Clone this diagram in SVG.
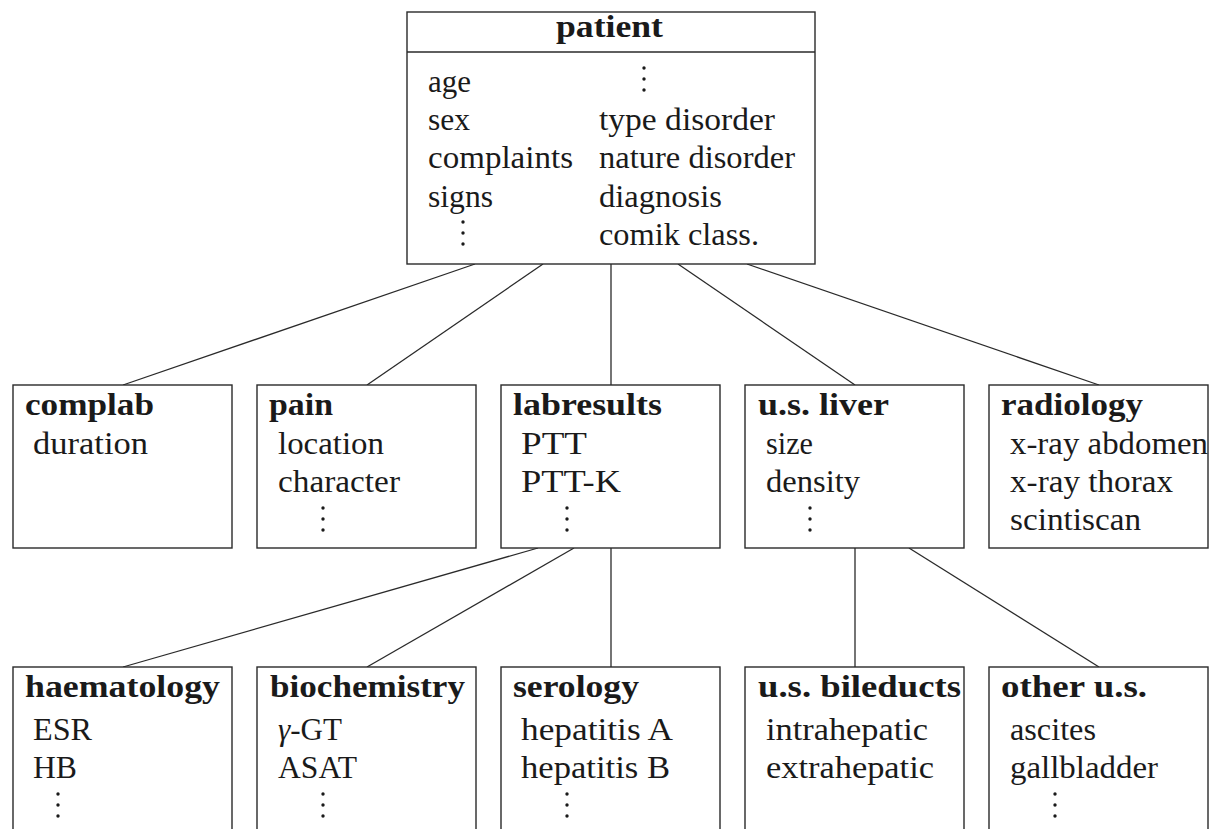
<svg xmlns="http://www.w3.org/2000/svg" width="1211" height="829" viewBox="0 0 1211 829">
  <style>
    .box { fill: #ffffff; stroke: #2a2a2a; stroke-width: 1.4; }
    .link { stroke: #2a2a2a; stroke-width: 1.3; fill: none; }
    text { font-family: "Liberation Serif", "Times New Roman", serif; font-size: 31px; fill: #1a1a1a; }
    .hd { font-weight: bold; }
    .dot { fill: #1a1a1a; }
  </style>
  <defs>
    <!-- vertical ellipsis: three small dots -->
    <g id="vdots">
      <circle class="dot" cx="0" cy="0" r="1.7"/>
      <circle class="dot" cx="0" cy="11" r="1.7"/>
      <circle class="dot" cx="0" cy="22" r="1.7"/>
    </g>
  </defs>

  <rect width="1211" height="829" fill="#ffffff"/>

  <!-- connectors -->
  <g id="connectors">
    <line class="link" x1="475" y1="264" x2="123" y2="385"/>
    <line class="link" x1="543" y1="264" x2="367" y2="385"/>
    <line class="link" x1="611" y1="264" x2="611" y2="385"/>
    <line class="link" x1="678" y1="264" x2="855" y2="385"/>
    <line class="link" x1="747" y1="264" x2="1099" y2="385"/>
    <line class="link" x1="538" y1="548" x2="123" y2="667"/>
    <line class="link" x1="574" y1="548" x2="367" y2="667"/>
    <line class="link" x1="611" y1="548" x2="611" y2="667"/>
    <line class="link" x1="855" y1="548" x2="855" y2="667"/>
    <line class="link" x1="909" y1="548" x2="1099" y2="667"/>
  </g>

  <!-- root entity -->
  <g id="patient">
    <rect class="box" x="407" y="12" width="408" height="252"/>
    <line class="link" x1="407" y1="52" x2="815" y2="52"/>
    <text class="hd" x="556" y="37" textLength="107" lengthAdjust="spacingAndGlyphs">patient</text>
    <text x="428" y="92" textLength="43" lengthAdjust="spacingAndGlyphs">age</text>
    <text x="428" y="130" textLength="42" lengthAdjust="spacingAndGlyphs">sex</text>
    <text x="428" y="168" textLength="145" lengthAdjust="spacingAndGlyphs">complaints</text>
    <text x="428" y="207" textLength="65" lengthAdjust="spacingAndGlyphs">signs</text>
    <use href="#vdots" x="463" y="222"/>
    <use href="#vdots" x="644" y="68"/>
    <text x="599" y="130" textLength="176" lengthAdjust="spacingAndGlyphs">type disorder</text>
    <text x="599" y="168" textLength="196" lengthAdjust="spacingAndGlyphs">nature disorder</text>
    <text x="599" y="207" textLength="123" lengthAdjust="spacingAndGlyphs">diagnosis</text>
    <text x="599" y="245" textLength="160" lengthAdjust="spacingAndGlyphs">comik class.</text>
  </g>

  <!-- second level -->
  <g id="complab">
    <rect class="box" x="13" y="385" width="219" height="163"/>
    <text class="hd" x="25" y="415" textLength="129" lengthAdjust="spacingAndGlyphs">complab</text>
    <text x="33" y="454" textLength="115" lengthAdjust="spacingAndGlyphs">duration</text>
  </g>

  <g id="pain">
    <rect class="box" x="257" y="385" width="219" height="163"/>
    <text class="hd" x="269" y="415" textLength="64" lengthAdjust="spacingAndGlyphs">pain</text>
    <text x="278" y="454" textLength="106" lengthAdjust="spacingAndGlyphs">location</text>
    <text x="278" y="492" textLength="122" lengthAdjust="spacingAndGlyphs">character</text>
    <use href="#vdots" x="323" y="508"/>
  </g>

  <g id="labresults">
    <rect class="box" x="501" y="385" width="219" height="163"/>
    <text class="hd" x="513" y="415" textLength="149" lengthAdjust="spacingAndGlyphs">labresults</text>
    <text x="521" y="454" textLength="66" lengthAdjust="spacingAndGlyphs">PTT</text>
    <text x="521" y="492" textLength="100" lengthAdjust="spacingAndGlyphs">PTT-K</text>
    <use href="#vdots" x="567" y="508"/>
  </g>

  <g id="us-liver">
    <rect class="box" x="745" y="385" width="219" height="163"/>
    <text class="hd" x="758" y="415" textLength="131" lengthAdjust="spacingAndGlyphs">u.s. liver</text>
    <text x="766" y="454" textLength="47" lengthAdjust="spacingAndGlyphs">size</text>
    <text x="766" y="492" textLength="94" lengthAdjust="spacingAndGlyphs">density</text>
    <use href="#vdots" x="810" y="508"/>
  </g>

  <g id="radiology">
    <rect class="box" x="989" y="385" width="219" height="163"/>
    <text class="hd" x="1001" y="415" textLength="142" lengthAdjust="spacingAndGlyphs">radiology</text>
    <text x="1010" y="454" textLength="198" lengthAdjust="spacingAndGlyphs">x-ray abdomen</text>
    <text x="1010" y="492" textLength="163" lengthAdjust="spacingAndGlyphs">x-ray thorax</text>
    <text x="1010" y="530" textLength="131" lengthAdjust="spacingAndGlyphs">scintiscan</text>
  </g>

  <!-- third level (boxes run past the bottom edge) -->
  <g id="haematology">
    <rect class="box" x="13" y="667" width="219" height="200"/>
    <text class="hd" x="25" y="697" textLength="195" lengthAdjust="spacingAndGlyphs">haematology</text>
    <text x="33" y="740" textLength="59" lengthAdjust="spacingAndGlyphs">ESR</text>
    <text x="33" y="778" textLength="44" lengthAdjust="spacingAndGlyphs">HB</text>
    <use href="#vdots" x="58" y="794"/>
  </g>

  <g id="biochemistry">
    <rect class="box" x="257" y="667" width="219" height="200"/>
    <text class="hd" x="270" y="697" textLength="195" lengthAdjust="spacingAndGlyphs">biochemistry</text>
    <text x="278" y="740" textLength="64" lengthAdjust="spacingAndGlyphs"><tspan font-style="italic">γ</tspan>-GT</text>
    <text x="278" y="778" textLength="79" lengthAdjust="spacingAndGlyphs">ASAT</text>
    <use href="#vdots" x="323" y="794"/>
  </g>

  <g id="serology">
    <rect class="box" x="501" y="667" width="219" height="200"/>
    <text class="hd" x="513" y="697" textLength="126" lengthAdjust="spacingAndGlyphs">serology</text>
    <text x="521" y="740" textLength="152" lengthAdjust="spacingAndGlyphs">hepatitis A</text>
    <text x="521" y="778" textLength="149" lengthAdjust="spacingAndGlyphs">hepatitis B</text>
    <use href="#vdots" x="567" y="794"/>
  </g>

  <g id="us-bileducts">
    <rect class="box" x="745" y="667" width="219" height="200"/>
    <text class="hd" x="758" y="697" textLength="203" lengthAdjust="spacingAndGlyphs">u.s. bileducts</text>
    <text x="766" y="740" textLength="162" lengthAdjust="spacingAndGlyphs">intrahepatic</text>
    <text x="766" y="778" textLength="168" lengthAdjust="spacingAndGlyphs">extrahepatic</text>
  </g>

  <g id="other-us">
    <rect class="box" x="989" y="667" width="219" height="200"/>
    <text class="hd" x="1001" y="697" textLength="146" lengthAdjust="spacingAndGlyphs">other u.s.</text>
    <text x="1010" y="740" textLength="86" lengthAdjust="spacingAndGlyphs">ascites</text>
    <text x="1010" y="778" textLength="148" lengthAdjust="spacingAndGlyphs">gallbladder</text>
    <use href="#vdots" x="1055" y="794"/>
  </g>
</svg>
